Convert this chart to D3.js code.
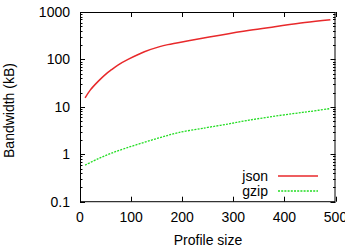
<!DOCTYPE html>
<html><head><meta charset="utf-8">
<script src="https://cdn.jsdelivr.net/npm/d3@7"></script>
<style>
html,body{margin:0;padding:0;background:#fff;}
svg{display:block;font-family:"Liberation Sans",Arial,Helvetica,sans-serif;}
</style></head>
<body><svg id="c" width="345" height="250"></svg>
<script>
const profileSizes = [10, 20, 35, 50, 61, 75, 94, 126, 156, 172, 215, 274, 332, 381, 440, 490];
const jsonValues   = [15.5, 22.5, 34, 48.5, 60, 77, 100, 145, 186, 205, 250, 325, 412, 490, 600, 688];
const gzipSizes    = [10, 35, 61, 90, 126, 160, 192, 235, 250, 290, 326, 370, 417, 450, 490];
const gzipValues   = [0.59, 0.8, 1.05, 1.35, 1.79, 2.3, 2.86, 3.45, 3.68, 4.35, 5.15, 6.1, 7.2, 8.0, 9.2];
const xTicks = [0, 100, 200, 300, 400, 500];
const yTicks = [0.1, 1, 10, 100, 1000];
const yTickLabels = ["0.1", "1", "10", "100", "1000"];
const seriesNames = ["json", "gzip"];

const svg = d3.select("#c");
const L = 80, R = 335.5, T = 12, B = 201.7;
const x = d3.scaleLinear().domain([0, 500]).range([L, R]);
const y = d3.scaleLog().domain([0.1, 1000]).range([B, T]);
const fs = 14;

// minor ticks
const minor = [];
for (let d = 0.1; d < 1000; d *= 10) for (let k = 2; k <= 9; k++) minor.push(d * k);
const g = svg.append("g").attr("stroke", "#000").attr("stroke-width", 1);
minor.forEach(v => {
  const yy = Math.round(y(v)) + 0.5;
  g.append("line").attr("x1", L).attr("x2", L + 2.5).attr("y1", yy).attr("y2", yy);
  g.append("line").attr("x1", R).attr("x2", R - 2.5).attr("y1", yy).attr("y2", yy);
});
yTicks.forEach(v => {
  const yy = Math.round(y(v)) + 0.5;
  g.append("line").attr("x1", L).attr("x2", L + 5).attr("y1", yy).attr("y2", yy);
  g.append("line").attr("x1", R).attr("x2", R - 5).attr("y1", yy).attr("y2", yy);
});
xTicks.forEach(v => {
  const xx = Math.round(x(v)) + 0.5;
  g.append("line").attr("x1", xx).attr("x2", xx).attr("y1", B).attr("y2", B - 5);
  g.append("line").attr("x1", xx).attr("x2", xx).attr("y1", T).attr("y2", T + 5);
});
svg.append("rect").attr("x", L + 0.5).attr("y", T + 0.5).attr("width", R - L - 1).attr("height", B - T - 0.5)
  .attr("fill", "none").attr("stroke", "#000").attr("stroke-width", 1);

// tick labels
yTicks.forEach((v, i) => {
  svg.append("text").attr("x", 70).attr("y", y(v)).attr("dy", "0.36em").attr("text-anchor", "end")
    .attr("font-size", fs).attr("fill", "#000").text(yTickLabels[i]);
});
xTicks.forEach(v => {
  svg.append("text").attr("x", x(v)).attr("y", 221.5).attr("text-anchor", "middle")
    .attr("font-size", fs).attr("fill", "#000").text(v);
});
svg.append("text").attr("x", 208).attr("y", 245).attr("text-anchor", "middle")
  .attr("font-size", fs).attr("fill", "#000").text("Profile size");
svg.append("text").attr("transform", "translate(14,110.5) rotate(-90)").attr("text-anchor", "middle")
  .attr("font-size", fs).attr("fill", "#000").text("Bandwidth (kB)");

// lines
const line = d3.line().x(d => x(d[0])).y(d => y(d[1])).curve(d3.curveCatmullRom.alpha(0.5));
svg.append("path").datum(d3.zip(profileSizes, jsonValues)).attr("d", line)
  .attr("fill", "none").attr("stroke", "#e8292b").attr("stroke-width", 1.5);
svg.append("path").datum(d3.zip(gzipSizes, gzipValues)).attr("d", line)
  .attr("fill", "none").attr("stroke", "#22dd22").attr("stroke-width", 1.3).attr("stroke-dasharray", "2,1.2");

// legend
const ly = [176, 191];
seriesNames.forEach((n, i) => {
  svg.append("text").attr("x", 268).attr("y", ly[i]).attr("dy", "0.33em").attr("text-anchor", "end")
    .attr("font-size", fs).attr("fill", "#000").text(n);
});
svg.append("line").attr("x1", 278).attr("x2", 318).attr("y1", ly[0]).attr("y2", ly[0])
  .attr("stroke", "#e8292b").attr("stroke-width", 1.5);
svg.append("line").attr("x1", 278).attr("x2", 318).attr("y1", ly[1]).attr("y2", ly[1])
  .attr("stroke", "#22dd22").attr("stroke-width", 1.3).attr("stroke-dasharray", "2,1.2");
</script></body></html>
